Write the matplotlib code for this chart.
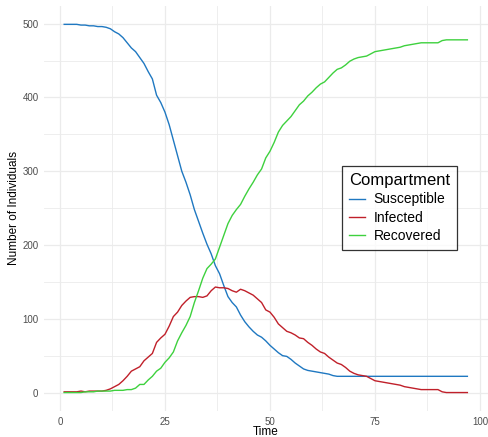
import matplotlib
matplotlib.use("Agg")
import matplotlib.pyplot as plt
from matplotlib.ticker import MultipleLocator

plt.rcParams['font.family'] = ['Liberation Sans', 'DejaVu Sans']

time = list(range(1, 98))
susceptible = [499, 499, 499, 499, 498, 498, 497, 497, 496, 496,
               495, 493, 489, 486, 481, 474, 467, 462, 454, 446,
               435, 425, 403, 393, 380, 363, 342, 321, 300, 285,
               268, 248, 232, 216, 201, 188, 172, 161, 145, 130,
               122, 116, 105, 96, 89, 83, 78, 75, 70, 64,
               59, 54, 50, 49, 45, 40, 36, 32, 30, 29,
               28, 27, 26, 25, 23, 22, 22, 22, 22, 22,
               22, 22, 22, 22, 22, 22, 22, 22, 22, 22,
               22, 22, 22, 22, 22, 22, 22, 22, 22, 22,
               22, 22, 22, 22, 22, 22, 22]
infected = [1, 1, 1, 1, 2, 1, 2, 2, 2, 2,
            3, 5, 8, 11, 16, 22, 29, 32, 35, 43,
            48, 53, 68, 74, 79, 90, 103, 109, 118, 124,
            129, 130, 130, 129, 131, 138, 143, 142, 142, 141,
            138, 136, 140, 138, 135, 132, 127, 122, 112, 109,
            102, 93, 88, 83, 81, 78, 74, 73, 68, 64,
            59, 55, 53, 48, 44, 40, 38, 34, 29, 26,
            24, 23, 22, 19, 16, 15, 14, 13, 12, 11,
            10, 8, 7, 6, 5, 4, 4, 4, 4, 4,
            1, 0, 0, 0, 0, 0, 0]
recovered = [0, 0, 0, 0, 0, 1, 1, 1, 2, 2,
             2, 2, 3, 3, 3, 4, 4, 6, 11, 11,
             17, 22, 29, 33, 41, 47, 55, 70, 81, 91,
             103, 122, 138, 155, 168, 174, 181, 197, 213, 229,
             240, 248, 255, 266, 276, 285, 295, 303, 318, 327,
             339, 353, 362, 368, 374, 382, 390, 395, 402, 407,
             413, 418, 421, 427, 433, 438, 440, 444, 449, 452,
             454, 455, 456, 459, 462, 463, 464, 465, 466, 467,
             468, 470, 471, 472, 473, 474, 474, 474, 474, 474,
             477, 478, 478, 478, 478, 478, 478]

series = [("Susceptible", susceptible, "#1F78C1"),
          ("Infected", infected, "#C0202A"),
          ("Recovered", recovered, "#3ED13E")]

fig = plt.figure(figsize=(4.89, 4.37), dpi=100)
ax = fig.add_axes([0.090, 0.0595, 0.907, 0.927])

for name, vals, col in series:
    ax.plot(time, vals, color=col, lw=1.0, label=name)

ax.set_xlim(-3.8, 101.8)
ax.set_ylim(-25, 524)
ax.xaxis.set_major_locator(MultipleLocator(25))
ax.xaxis.set_minor_locator(MultipleLocator(12.5))
ax.yaxis.set_major_locator(MultipleLocator(100))
ax.yaxis.set_minor_locator(MultipleLocator(50))
ax.grid(which='major', color='#EBEBEB', lw=0.9)
ax.grid(which='minor', color='#EBEBEB', lw=0.6)
ax.set_axisbelow(True)
for s in ax.spines.values():
    s.set_visible(False)
ax.tick_params(which='both', length=0)
ax.tick_params(axis='both', labelsize=7, labelcolor='#4D4D4D', pad=4)

fig.text(0.5 * (0.090 + 0.997), 1 - 432 / 437, "Time", fontsize=8.5,
         ha='center', va='center')
ax.set_ylabel("Number of Individuals", fontsize=8.5, labelpad=2)

leg = ax.legend(title="Compartment", loc='center', bbox_to_anchor=(0.801, 0.501),
                fontsize=10, title_fontsize=12, frameon=True, fancybox=False,
                handlelength=1.2, handletextpad=0.6, labelspacing=0.3,
                borderpad=0.5, edgecolor='black')
leg.get_frame().set_linewidth(0.9)
leg._legend_box.align = "left"

fig.savefig("out.png", dpi=100)
